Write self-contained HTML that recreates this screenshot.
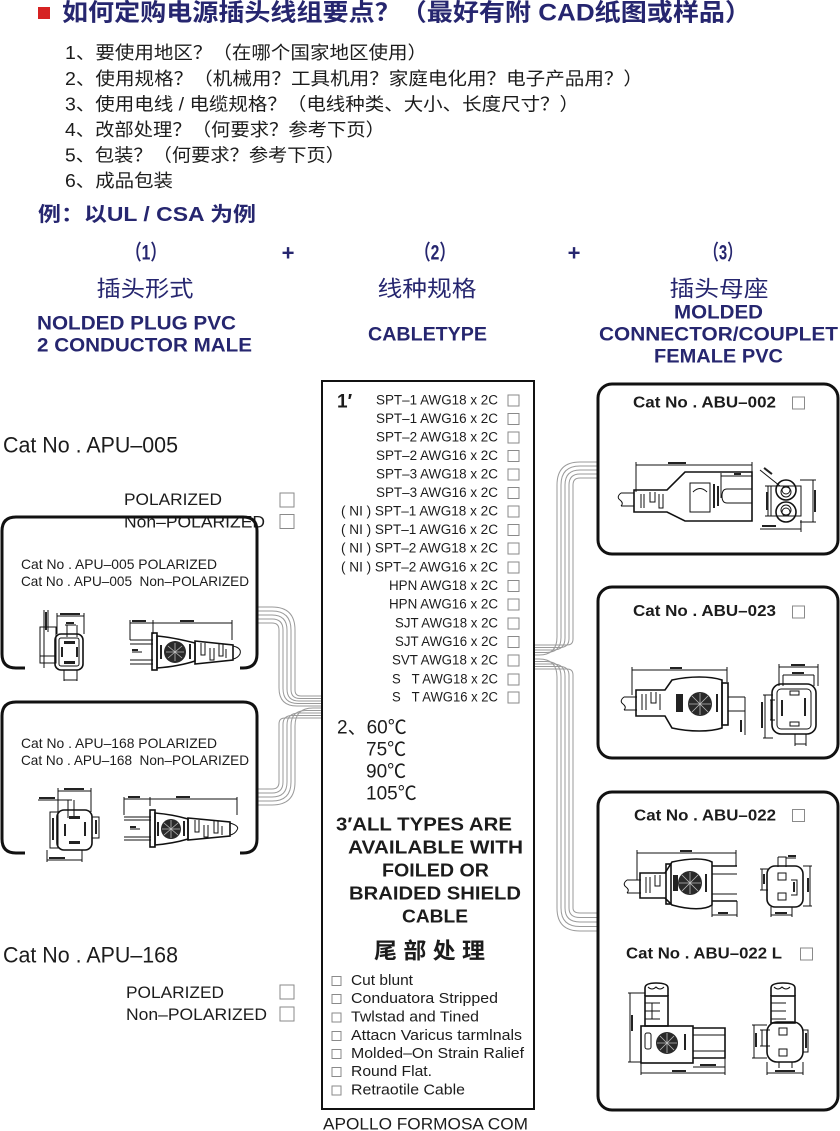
<!DOCTYPE html>
<html><head><meta charset="utf-8"><style>
html,body{margin:0;padding:0;background:#fff;}
svg{display:block;}
text{font-family:"Liberation Sans","Noto Sans CJK SC",sans-serif;dominant-baseline:central;}
.nv{fill:#26266f;}
.k{fill:#1c1c1c;}
.b{font-weight:bold;}
.cl{stroke:#9a9a9a;stroke-width:1;fill:none;}
.cb{fill:#fff;stroke:#8a8a8a;stroke-width:1;}
.d{stroke:#111;stroke-width:1;fill:none;}
.d2{stroke:#111;stroke-width:1.6;fill:none;}
.f{fill:#222;stroke:none;}
.pn{fill:none;stroke:#111;stroke-width:3;}
</style></head><body>
<svg width="840" height="1131" viewBox="0 0 840 1131" xmlns="http://www.w3.org/2000/svg">
<!-- Header -->
<rect x="38" y="7" width="12" height="12" fill="#d62222"/>
<text x="62" y="13" font-size="24" class="nv b" textLength="689" lengthAdjust="spacingAndGlyphs">如何定购电源插头线组要点？（最好有附 CAD纸图或样品）</text>
<g class="k" font-size="18">
<text x="65" y="53" textLength="362" lengthAdjust="spacingAndGlyphs">1、要使用地区？（在哪个国家地区使用）</text>
<text x="65" y="79" textLength="578" lengthAdjust="spacingAndGlyphs">2、使用规格？（机械用？工具机用？家庭电化用？电子产品用？）</text>
<text x="65" y="104.5" textLength="514" lengthAdjust="spacingAndGlyphs">3、使用电线 / 电缆规格？（电线种类、大小、长度尺寸？）</text>
<text x="65" y="130" textLength="320" lengthAdjust="spacingAndGlyphs">4、改部处理？（何要求？参考下页）</text>
<text x="65" y="155.5" textLength="280" lengthAdjust="spacingAndGlyphs">5、包装？（何要求？参考下页）</text>
<text x="65" y="181" textLength="108" lengthAdjust="spacingAndGlyphs">6、成品包装</text>
</g>
<text x="38" y="215" font-size="20" class="nv b" textLength="218" lengthAdjust="spacingAndGlyphs">例：以UL / CSA 为例</text>

<!-- Section heads -->
<g class="nv" text-anchor="middle">
<text x="146" y="253" font-size="21" class="b" textLength="40" lengthAdjust="spacingAndGlyphs">（1）</text>
<text x="435" y="253" font-size="21" class="b" textLength="40" lengthAdjust="spacingAndGlyphs">（2）</text>
<text x="723" y="253" font-size="21" class="b" textLength="38" lengthAdjust="spacingAndGlyphs">（3）</text>
<text x="288" y="253" font-size="22" class="b">+</text>
<text x="574" y="253" font-size="22" class="b">+</text>
<text x="145" y="289" font-size="22" textLength="97" lengthAdjust="spacingAndGlyphs">插头形式</text>
<text x="427" y="289" font-size="22" textLength="99" lengthAdjust="spacingAndGlyphs">线种规格</text>
<text x="719" y="289" font-size="22" textLength="99" lengthAdjust="spacingAndGlyphs">插头母座</text>
<text x="427.5" y="335" font-size="19" class="b" textLength="119" lengthAdjust="spacingAndGlyphs">CABLETYPE</text>
<text x="718.5" y="313" font-size="19" class="b" textLength="89" lengthAdjust="spacingAndGlyphs">MOLDED</text>
<text x="718.5" y="357" font-size="19" class="b" textLength="129" lengthAdjust="spacingAndGlyphs">FEMALE PVC</text>
</g>
<text x="37" y="324" font-size="19" class="nv b" textLength="199" lengthAdjust="spacingAndGlyphs">NOLDED PLUG PVC</text>
<text x="37" y="346" font-size="19" class="nv b" textLength="215" lengthAdjust="spacingAndGlyphs">2 CONDUCTOR MALE</text>
<text x="599" y="335" font-size="19" class="nv b" textLength="239" lengthAdjust="spacingAndGlyphs">CONNECTOR/COUPLET</text>

<!-- Connector lines left top -->
<g class="cl">
<path d="M257,607 H272 Q295,607 295,630 V690 Q295,696 301,696 H322"/>
<path d="M257,611 H272 Q291,611 291,630 V689.5 Q291,698.5 300,698.5 H322"/>
<path d="M257,615 H272 Q287,615 287,630 V689 Q287,701 299,701 H322"/>
<path d="M257,619 H272 Q283,619 283,630 V688.5 Q283,703.5 298,703.5 H322"/>
<path d="M257,623 H272 Q279,623 279,630 V688 Q279,706 297,706 H322"/>
<!-- left bottom -->
<path d="M322,708 H313 Q295,708 295,726 V782 Q295,805 272,805 H257"/>
<path d="M322,710.5 H306 Q291,710.5 291,725.5 V782 Q291,801 272,801 H257"/>
<path d="M322,713 H299 Q287,713 287,725 V782 Q287,797 272,797 H257"/>
<path d="M322,715.5 H292 Q283,715.5 283,724.5 V782 Q283,793 272,793 H257"/>
<path d="M322,718 H285 Q279,718 279,724 V782 Q279,789 272,789 H257"/>
<!-- right upper -->
<path d="M534,645 H567 Q573,645 573,639 V485 Q573,478 580,478 H597"/>
<path d="M534,647.5 H560 Q569,647.5 569,638.5 V485 Q569,474 580,474 H597"/>
<path d="M534,650 H553 Q565,650 565,638 V485 Q565,470 580,470 H597"/>
<path d="M534,652.5 H546 Q561,652.5 561,637.5 V485 Q561,466 580,466 H597"/>
<path d="M534,655 H539 Q557,655 557,637 V485 Q557,462 580,462 H597"/>
<!-- right lower -->
<path d="M534,659 H539 Q557,659 557,677 V908 Q557,931 580,931 H597"/>
<path d="M534,661.5 H546 Q561,661.5 561,676.5 V908 Q561,926.5 580,926.5 H597"/>
<path d="M534,664 H553 Q565,664 565,676 V908 Q565,922 580,922 H597"/>
<path d="M534,666.5 H560 Q569,666.5 569,675.5 V908 Q569,917.5 580,917.5 H597"/>
<path d="M534,669 H567 Q573,669 573,675 V908 Q573,913 580,913 H597"/>
</g>

<!-- Left side -->
<text x="3" y="445" font-size="22" class="k" textLength="175" lengthAdjust="spacingAndGlyphs">Cat No . APU–005</text>
<text x="124" y="499.5" font-size="17" class="k" textLength="98" lengthAdjust="spacingAndGlyphs">POLARIZED</text>
<text x="124" y="522" font-size="17" class="k" textLength="141" lengthAdjust="spacingAndGlyphs">Non–POLARIZED</text>
<rect x="280" y="493" width="14" height="14" class="cb"/>
<rect x="280" y="514.5" width="14" height="14" class="cb"/>

<path class="pn" d="M25,668 H16 Q2,668 2,654 V531 Q2,517 16,517 H243 Q257,517 257,531 V654 Q257,668 243,668 H240"/>
<text x="21" y="564" font-size="14" class="k" textLength="196" lengthAdjust="spacingAndGlyphs">Cat No . APU–005 POLARIZED</text>
<text x="21" y="581" font-size="14" class="k" textLength="228" lengthAdjust="spacingAndGlyphs">Cat No . APU–005&#160; Non–POLARIZED</text>

<!-- APU-005 front -->
<g>
<line class="d" x1="44" y1="610" x2="44" y2="668"/>
<line class="d" x1="48" y1="610" x2="48" y2="632"/>
<rect class="f" x="45" y="612" width="2" height="18"/>
<line class="d" x1="40" y1="656" x2="55" y2="656"/>
<line class="d" x1="57" y1="616" x2="84" y2="616"/>
<rect class="f" x="60" y="613" width="20" height="2"/>
<line class="d" x1="57" y1="613" x2="57" y2="634"/>
<line class="d" x1="84" y1="613" x2="84" y2="634"/>
<line class="d" x1="65" y1="625" x2="76" y2="625"/>
<rect class="f" x="66" y="622" width="8" height="2"/>
<line class="d" x1="67" y1="625" x2="67" y2="637"/>
<line class="d" x1="77" y1="625" x2="77" y2="637"/>
<rect class="d" x="40" y="627" width="16" height="36"/>
<rect class="d2" x="55" y="634" width="28" height="36" rx="6"/>
<rect class="d" x="59" y="638" width="20" height="28" rx="2"/>
<rect class="f" x="64" y="641" width="11" height="3"/>
<rect class="f" x="64" y="661" width="11" height="3"/>
<rect class="f" x="61" y="647" width="2" height="10"/>
<rect class="f" x="76" y="647" width="2" height="10"/>
<line class="d" x1="64" y1="670" x2="64" y2="681"/>
<line class="d" x1="77" y1="670" x2="77" y2="681"/>
<line class="d" x1="64" y1="680" x2="77" y2="680"/>
</g>
<!-- APU-005 side -->
<g>
<line class="d" x1="130" y1="623" x2="153" y2="623"/>
<line class="d" x1="153" y1="623" x2="232" y2="623"/>
<rect class="f" x="132" y="620" width="14" height="2"/>
<rect class="f" x="180" y="620" width="14" height="2"/>
<line class="d" x1="130" y1="620" x2="130" y2="640"/>
<line class="d" x1="153" y1="620" x2="153" y2="634"/>
<line class="d" x1="232" y1="620" x2="232" y2="640"/>
<path class="d" d="M130,640 H153 M130,644 H153 M130,660 H153 M130,664 H153"/>
<line class="d" x1="132" y1="652" x2="142" y2="652"/>
<rect class="f" x="132" y="649" width="6" height="2"/>
<rect class="d2" x="152" y="633" width="5" height="37"/>
<path class="d2" d="M157,636 C170,637 183,640 195,643 L195,661 C183,665 170,667 157,668 Z"/>
<circle cx="175" cy="652" r="11" fill="#2a2a2a"/>
<path d="M166,652 H184 M175,643 V661 M168,646 L182,658 M182,646 L168,658" stroke="#bbb" stroke-width="0.8"/>
<rect class="f" x="160" y="645" width="2" height="14"/>
<rect class="f" x="189" y="644" width="2" height="15"/>
<path class="d2" d="M195,641 L233,645 L233,660 L195,664 Z"/>
<path class="d" d="M201,643 V655 H205 V643 M210,648 V660 H214 V648 M219,644 V656 H223 V644 M226,649 V658"/>
<path class="d" d="M233,646 Q242,648 240,654 Q238,658 233,659"/>
</g>

<path class="pn" d="M25,853 H16 Q2,853 2,839 V716 Q2,702 16,702 H243 Q257,702 257,716 V839 Q257,853 243,853 H240"/>
<text x="21" y="743" font-size="14" class="k" textLength="196" lengthAdjust="spacingAndGlyphs">Cat No . APU–168 POLARIZED</text>
<text x="21" y="760" font-size="14" class="k" textLength="228" lengthAdjust="spacingAndGlyphs">Cat No . APU–168&#160; Non–POLARIZED</text>
<!-- APU-168 front -->
<g>
<line class="d" x1="58" y1="791" x2="91" y2="791"/>
<rect class="f" x="64" y="788" width="20" height="2"/>
<line class="d" x1="58" y1="788" x2="58" y2="812"/>
<line class="d" x1="91" y1="788" x2="91" y2="812"/>
<line class="d" x1="38" y1="800" x2="72" y2="800"/>
<rect class="f" x="39" y="797" width="16" height="2"/>
<line class="d" x1="68" y1="800" x2="68" y2="818"/>
<line class="d" x1="74" y1="800" x2="74" y2="818"/>
<rect class="d" x="50" y="812" width="8" height="36"/>
<rect class="f" x="52" y="818" width="2" height="22"/>
<rect class="d2" x="57" y="810" width="35" height="40" rx="7"/>
<rect class="f" x="69" y="816" width="11" height="3"/>
<rect class="f" x="69" y="841" width="11" height="3"/>
<rect class="f" x="64" y="824" width="2" height="12"/>
<rect class="f" x="84" y="822" width="2" height="14"/>
<path class="d" d="M92,817 H99 V838 H92"/>
<rect class="f" x="95" y="820" width="2" height="14"/>
<line class="d" x1="47" y1="860" x2="82" y2="860"/>
<rect class="f" x="49" y="857" width="16" height="2"/>
<line class="d" x1="47" y1="850" x2="47" y2="862"/>
<line class="d" x1="82" y1="850" x2="82" y2="862"/>
</g>
<!-- APU-168 side -->
<g>
<line class="d" x1="124" y1="799" x2="237" y2="799"/>
<rect class="f" x="128" y="796" width="12" height="2"/>
<rect class="f" x="176" y="796" width="14" height="2"/>
<line class="d" x1="124" y1="797" x2="124" y2="815"/>
<line class="d" x1="150" y1="797" x2="150" y2="806"/>
<line class="d" x1="237" y1="797" x2="237" y2="815"/>
<path class="d" d="M124,817 H151 M124,820 H151 M124,837 H151 M124,840 H151"/>
<line class="d" x1="130" y1="829" x2="140" y2="829"/>
<rect class="f" x="130" y="826" width="6" height="2"/>
<rect class="d2" x="150" y="810" width="5" height="37"/>
<path class="d2" d="M155,813 C167,814 178,816 188,819 L188,839 C178,842 167,844 155,845 Z"/>
<circle cx="171" cy="829" r="10" fill="#2a2a2a"/>
<path d="M162,829 H180 M171,820 V838 M164,823 L178,835 M178,823 L164,835" stroke="#bbb" stroke-width="0.8"/>
<rect class="f" x="157" y="822" width="2" height="14"/>
<rect class="f" x="183" y="821" width="2" height="15"/>
<path class="d2" d="M188,818 L230,822 L230,836 L188,840 Z"/>
<path class="d" d="M195,820 V832 H199 V820 M204,825 V837 H208 V825 M214,821 V833 H218 V821 M222,826 V835"/>
<path class="d" d="M230,823 Q240,826 237,830 Q235,834 230,835"/>
</g>

<text x="3" y="955" font-size="22" class="k" textLength="175" lengthAdjust="spacingAndGlyphs">Cat No . APU–168</text>
<text x="126" y="992.5" font-size="17" class="k" textLength="98" lengthAdjust="spacingAndGlyphs">POLARIZED</text>
<text x="126" y="1014.5" font-size="17" class="k" textLength="141" lengthAdjust="spacingAndGlyphs">Non–POLARIZED</text>
<rect x="280" y="985" width="14" height="14" class="cb"/>
<rect x="280" y="1007" width="14" height="14" class="cb"/>

<!-- Center box -->
<rect x="322" y="381" width="212" height="728" fill="none" stroke="#111" stroke-width="2"/>
<text x="337" y="402" font-size="19" class="k b">1′</text>
<g class="k" font-size="13.5" text-anchor="end">
<text x="498" y="400" textLength="122" lengthAdjust="spacingAndGlyphs">SPT–1 AWG18 x 2C</text>
<text x="498" y="418.5" textLength="122" lengthAdjust="spacingAndGlyphs">SPT–1 AWG16 x 2C</text>
<text x="498" y="437" textLength="122" lengthAdjust="spacingAndGlyphs">SPT–2 AWG18 x 2C</text>
<text x="498" y="455.5" textLength="122" lengthAdjust="spacingAndGlyphs">SPT–2 AWG16 x 2C</text>
<text x="498" y="474" textLength="122" lengthAdjust="spacingAndGlyphs">SPT–3 AWG18 x 2C</text>
<text x="498" y="492.5" textLength="122" lengthAdjust="spacingAndGlyphs">SPT–3 AWG16 x 2C</text>
<text x="498" y="511" textLength="157" lengthAdjust="spacingAndGlyphs">( NI ) SPT–1 AWG18 x 2C</text>
<text x="498" y="529.5" textLength="157" lengthAdjust="spacingAndGlyphs">( NI ) SPT–1 AWG16 x 2C</text>
<text x="498" y="548" textLength="157" lengthAdjust="spacingAndGlyphs">( NI ) SPT–2 AWG18 x 2C</text>
<text x="498" y="567" textLength="157" lengthAdjust="spacingAndGlyphs">( NI ) SPT–2 AWG16 x 2C</text>
<text x="498" y="585.5" textLength="109" lengthAdjust="spacingAndGlyphs">HPN AWG18 x 2C</text>
<text x="498" y="604" textLength="109" lengthAdjust="spacingAndGlyphs">HPN AWG16 x 2C</text>
<text x="498" y="623" textLength="103" lengthAdjust="spacingAndGlyphs">SJT AWG18 x 2C</text>
<text x="498" y="641.5" textLength="103" lengthAdjust="spacingAndGlyphs">SJT AWG16 x 2C</text>
<text x="498" y="660" textLength="106" lengthAdjust="spacingAndGlyphs">SVT AWG18 x 2C</text>
<text x="498" y="679" textLength="106" lengthAdjust="spacingAndGlyphs">S&#160;&#160;&#160;T AWG18 x 2C</text>
<text x="498" y="697" textLength="106" lengthAdjust="spacingAndGlyphs">S&#160;&#160;&#160;T AWG16 x 2C</text>
</g>
<g>
<rect x="508" y="395" width="11" height="11" class="cb"/>
<rect x="508" y="413.5" width="11" height="11" class="cb"/>
<rect x="508" y="432" width="11" height="11" class="cb"/>
<rect x="508" y="450.5" width="11" height="11" class="cb"/>
<rect x="508" y="469" width="11" height="11" class="cb"/>
<rect x="508" y="487.5" width="11" height="11" class="cb"/>
<rect x="508" y="506" width="11" height="11" class="cb"/>
<rect x="508" y="524.5" width="11" height="11" class="cb"/>
<rect x="508" y="543" width="11" height="11" class="cb"/>
<rect x="508" y="562" width="11" height="11" class="cb"/>
<rect x="508" y="580.5" width="11" height="11" class="cb"/>
<rect x="508" y="599" width="11" height="11" class="cb"/>
<rect x="508" y="618" width="11" height="11" class="cb"/>
<rect x="508" y="636.5" width="11" height="11" class="cb"/>
<rect x="508" y="655" width="11" height="11" class="cb"/>
<rect x="508" y="674" width="11" height="11" class="cb"/>
<rect x="508" y="692" width="11" height="11" class="cb"/>
</g>
<g class="k" font-size="19">
<text x="337" y="728">2、60℃</text>
<text x="366" y="750">75℃</text>
<text x="366" y="772">90℃</text>
<text x="366" y="794">105℃</text>
</g>
<g class="k b" font-size="18.5">
<text x="336" y="824" textLength="176" lengthAdjust="spacingAndGlyphs">3′ALL TYPES ARE</text>
<text x="348" y="847" textLength="175" lengthAdjust="spacingAndGlyphs">AVAILABLE WITH</text>
<text x="382" y="870" textLength="107" lengthAdjust="spacingAndGlyphs">FOILED OR</text>
<text x="349" y="893" textLength="172" lengthAdjust="spacingAndGlyphs">BRAIDED SHIELD</text>
<text x="402" y="916" textLength="66" lengthAdjust="spacingAndGlyphs">CABLE</text>
<text x="374" y="951" font-size="22" textLength="111" lengthAdjust="spacingAndGlyphs">尾 部 处 理</text>
</g>
<g class="k" font-size="14.5">
<text x="351" y="981" textLength="62" lengthAdjust="spacingAndGlyphs">Cut blunt</text>
<text x="351" y="999" textLength="147" lengthAdjust="spacingAndGlyphs">Conduatora Stripped</text>
<text x="351" y="1017.5" textLength="128" lengthAdjust="spacingAndGlyphs">Twlstad and Tined</text>
<text x="351" y="1036" textLength="171" lengthAdjust="spacingAndGlyphs">Attacn Varicus tarmlnals</text>
<text x="351" y="1054" textLength="173" lengthAdjust="spacingAndGlyphs">Molded–On Strain Ralief</text>
<text x="351" y="1072" textLength="81" lengthAdjust="spacingAndGlyphs">Round Flat.</text>
<text x="351" y="1090.5" textLength="114" lengthAdjust="spacingAndGlyphs">Retraotile Cable</text>
</g>
<g>
<rect x="332" y="976.5" width="9" height="9" class="cb"/>
<rect x="332" y="994.5" width="9" height="9" class="cb"/>
<rect x="332" y="1013" width="9" height="9" class="cb"/>
<rect x="332" y="1031.5" width="9" height="9" class="cb"/>
<rect x="332" y="1049.5" width="9" height="9" class="cb"/>
<rect x="332" y="1067.5" width="9" height="9" class="cb"/>
<rect x="332" y="1086" width="9" height="9" class="cb"/>
</g>
<text x="323" y="1124" font-size="17" class="k" textLength="205" lengthAdjust="spacingAndGlyphs">APOLLO FORMOSA COM</text>

<!-- Right panels -->
<rect class="pn" x="598" y="384" width="240" height="170" rx="14"/>
<rect class="pn" x="598" y="587" width="240" height="171" rx="14"/>
<rect class="pn" x="598" y="792" width="240" height="318" rx="14"/>
<g class="k b" font-size="16">
<text x="633" y="403" textLength="143" lengthAdjust="spacingAndGlyphs">Cat No . ABU–002</text>
<text x="633" y="611.5" textLength="143" lengthAdjust="spacingAndGlyphs">Cat No . ABU–023</text>
<text x="634" y="816" textLength="142" lengthAdjust="spacingAndGlyphs">Cat No . ABU–022</text>
<text x="626" y="954" textLength="156" lengthAdjust="spacingAndGlyphs">Cat No . ABU–022 L</text>
</g>
<rect x="792.5" y="397" width="12" height="12" class="cb"/>
<rect x="792.5" y="606" width="12" height="12" class="cb"/>
<rect x="792.5" y="809.5" width="12" height="12" class="cb"/>
<rect x="800.5" y="948" width="12" height="12" class="cb"/>

<!-- ABU-002 side -->
<g>
<line class="d" x1="636" y1="465" x2="752" y2="465"/>
<rect class="f" x="668" y="462" width="18" height="2"/>
<line class="d" x1="636" y1="462" x2="636" y2="492"/>
<line class="d" x1="752" y1="462" x2="752" y2="472"/>
<line class="d" x1="721" y1="476" x2="752" y2="476"/>
<rect class="f" x="734" y="473" width="7" height="2"/>
<line class="d" x1="721" y1="473" x2="721" y2="498"/>
<path class="d" d="M621,493 H634 M621,506 H634 M621,493 Q616,497 620,500 Q624,503 621,506"/>
<path class="d2" d="M634,490 H667 L685,472 H752 V521 H685 L667,512 H634 Z"/>
<path class="d" d="M641,494 V508 M644,494 V508 M650,492 V502 H655 V492 M659,494 V508 H663 V494"/>
<path class="d" d="M690,483 H710 V512 H690 Z M693,492 Q700,485 707,492"/>
<rect class="f" x="713" y="484" width="2" height="24"/>
<rect class="f" x="717" y="486" width="2" height="20"/>
<path class="d" d="M752,489 H727 Q722,489 722,496 Q722,503 727,503 H752"/>
</g>
<!-- ABU-002 front -->
<g>
<path class="d" d="M760,470 L780,486"/>
<rect class="f" x="763" y="470" width="10" height="2" transform="rotate(38 768 471)"/>
<circle class="d2" cx="786" cy="490" r="10"/>
<circle class="d2" cx="786" cy="512" r="10"/>
<circle class="d" cx="786" cy="490" r="4"/>
<circle class="d" cx="786" cy="512" r="4"/>
<rect class="d" x="771" y="486" width="30" height="30" fill="#fff"/>
<circle class="d" cx="786" cy="492" r="5"/>
<circle class="d" cx="786" cy="510" r="5"/>
<path class="d" d="M765,486 H772 M765,516 H772 M768,486 V516"/>
<rect class="f" x="766" y="492" width="2" height="18"/>
<path class="d" d="M800,480 H816 M800,522 H816 M813,480 V522"/>
<rect class="f" x="814" y="490" width="2" height="22"/>
<line class="d" x1="760" y1="529" x2="801" y2="529"/>
<rect class="f" x="762" y="525" width="14" height="2"/>
<line class="d" x1="801" y1="520" x2="801" y2="532"/>
</g>

<!-- ABU-023 side -->
<g>
<line class="d" x1="632" y1="670" x2="727" y2="670"/>
<rect class="f" x="670" y="667" width="12" height="2"/>
<line class="d" x1="632" y1="667" x2="632" y2="695"/>
<line class="d" x1="727" y1="667" x2="727" y2="682"/>
<path class="d" d="M624,697 H637 M624,710 H637 M624,697 Q619,701 623,704 Q627,707 624,710"/>
<path class="d2" d="M636,690 H665 L672,680 C690,676 710,676 722,680 L722,728 C710,732 690,732 672,728 L665,716 H636 Z"/>
<path class="d" d="M642,694 V710 M646,694 V710 M651,692 V703 H656 V692 M660,694 V710"/>
<rect class="f" x="676" y="694" width="7" height="18"/>
<circle cx="700" cy="704" r="12" fill="#2a2a2a"/>
<path d="M689,704 H711 M700,693 V715 M692,696 L708,712 M708,696 L692,712" stroke="#bbb" stroke-width="0.8"/>
<rect class="f" x="716" y="694" width="2" height="18"/>
<rect class="d2" x="722" y="683" width="6" height="42"/>
<path class="d" d="M728,697 H745 M728,711 H745"/>
<line class="d" x1="745" y1="697" x2="745" y2="735"/>
<rect class="f" x="740" y="720" width="2" height="12"/>
</g>
<!-- ABU-023 front -->
<g>
<line class="d" x1="779" y1="667" x2="818" y2="667"/>
<rect class="f" x="791" y="664" width="14" height="2"/>
<line class="d" x1="783" y1="675" x2="814" y2="675"/>
<rect class="f" x="792" y="672" width="12" height="2"/>
<path class="d" d="M779,664 V686 M818,664 V686 M783,675 V686 M814,675 V686"/>
<rect class="d2" x="772" y="684" width="44" height="50" rx="9"/>
<rect class="d" x="777" y="689" width="34" height="40" rx="4"/>
<rect class="d" x="790" y="691" width="9" height="4"/>
<rect class="d" x="790" y="722" width="9" height="4"/>
<rect class="f" x="781" y="700" width="2" height="16"/>
<rect class="f" x="804" y="698" width="2" height="18"/>
<path class="d" d="M763,695 H773 M763,738 H773 M765,695 V738 M770,700 H775 M770,720 H775 M771,700 V720"/>
<rect class="f" x="761" y="702" width="2" height="26"/>
<path class="d" d="M795,734 V746 M806,734 V746 M795,744 H806"/>
</g>

<!-- ABU-022 side -->
<g>
<line class="d" x1="637" y1="853" x2="736" y2="853"/>
<rect class="f" x="680" y="850" width="12" height="2"/>
<line class="d" x1="637" y1="850" x2="637" y2="880"/>
<line class="d" x1="736" y1="850" x2="736" y2="866"/>
<path class="d" d="M627,880 H641 M627,893 H641 M627,880 Q622,884 626,887 Q630,890 627,893"/>
<path class="d2" d="M640,873 H665 L672,862 C690,858 705,858 712,862 L712,905 C705,910 690,910 672,905 L665,898 H640 Z"/>
<path class="d" d="M646,877 V893 M650,877 V893 M655,875 V886 H660 V875"/>
<rect class="d2" x="666" y="864" width="5" height="40"/>
<rect class="f" x="673" y="875" width="5" height="16"/>
<circle cx="690" cy="883" r="12" fill="#2a2a2a"/>
<path d="M679,883 H701 M690,872 V894 M682,875 L698,891 M698,875 L682,891" stroke="#bbb" stroke-width="0.8"/>
<rect class="f" x="705" y="874" width="2" height="18"/>
<path class="d2" d="M712,866 H737 M712,901 H737"/>
<path class="d" d="M712,874 H737 M712,894 H737"/>
<path class="d" d="M712,905 V917 M737,901 V917 M712,915 H737"/>
<rect class="f" x="718" y="912" width="10" height="2"/>
</g>
<!-- ABU-022 front -->
<g>
<path class="d" d="M778,857 H786 V867 M778,857 V867"/>
<path class="d" d="M786,858 H796"/>
<rect class="f" x="788" y="855" width="8" height="2"/>
<rect class="d2" x="767" y="866" width="36" height="41" rx="8"/>
<rect class="d" x="778" y="873" width="8" height="7"/>
<rect class="d" x="778" y="893" width="8" height="7"/>
<path class="d" d="M791,880 H797 V895 H791"/>
<rect class="f" x="793" y="882" width="2" height="10"/>
<path class="d" d="M760,869 H768 M760,890 H768 M762,869 V890"/>
<rect class="f" x="763" y="874" width="2" height="10"/>
<path class="d" d="M803,866 H812 M803,906 H812 M810,866 V906"/>
<rect class="f" x="807" y="878" width="2" height="14"/>
<path class="d" d="M771,907 V917 M792,907 V917 M771,915 H792"/>
<rect class="f" x="775" y="912" width="12" height="2"/>
</g>

<!-- ABU-022 L side -->
<g>
<path class="d2" d="M645,996 V988 Q645,983 656,983 Q668,983 668,988 V996"/>
<path class="d" d="M648,987 Q652,991 656,987 Q660,991 664,987"/>
<rect class="d2" x="645" y="996" width="23" height="30"/>
<path class="d" d="M645,1003 H660 M645,1011 H660 M645,1019 H660 M652,1003 V1019"/>
<rect class="d2" x="641" y="1026" width="52" height="37"/>
<rect class="d" x="645" y="1033" width="6" height="16" rx="2"/>
<circle cx="667" cy="1043" r="11" fill="#2a2a2a"/>
<path d="M657,1043 H677 M667,1033 V1053 M660,1036 L674,1050 M674,1036 L660,1050" stroke="#bbb" stroke-width="0.8"/>
<rect class="f" x="684" y="1034" width="2" height="16"/>
<path class="d2" d="M693,1028 H725 V1058 H693"/>
<path class="d" d="M693,1035 H725 M693,1051 H725"/>
<path class="d" d="M628,993 H645 M628,1062 H641 M630,993 V1062"/>
<rect class="f" x="631" y="1015" width="2" height="16"/>
<path class="d" d="M641,1063 V1075 M725,1058 V1075 M693,1067 H725 M641,1073 H725"/>
<rect class="f" x="700" y="1064" width="16" height="2"/>
<rect class="f" x="672" y="1070" width="14" height="2"/>
</g>
<!-- ABU-022 L front -->
<g>
<path class="d2" d="M771,996 V988 Q771,983 783,983 Q795,983 795,988 V996"/>
<path class="d" d="M774,987 Q778,991 782,987 Q786,991 790,987"/>
<rect class="d2" x="771" y="996" width="24" height="27"/>
<path class="d" d="M771,1003 H786 M771,1011 H786 M771,1019 H786"/>
<rect class="d2" x="767" y="1022" width="36" height="40" rx="10"/>
<rect class="d" x="779" y="1028" width="8" height="7"/>
<rect class="d" x="779" y="1049" width="8" height="7"/>
<path class="d" d="M803,1030 H808 V1052 H803"/>
<rect class="f" x="805" y="1033" width="2" height="15"/>
<path class="d" d="M752,1025 H767 M752,1058 H767 M754,1025 V1058 M760,1030 H770 M760,1046 H770 M762,1030 V1046"/>
<rect class="f" x="755" y="1033" width="2" height="14"/>
<path class="d" d="M767,1062 V1075 M803,1062 V1075 M767,1073 H803 M779,1062 V1068 M792,1062 V1068"/>
<rect class="f" x="775" y="1070" width="20" height="2"/>
</g>
</svg>
</body></html>
